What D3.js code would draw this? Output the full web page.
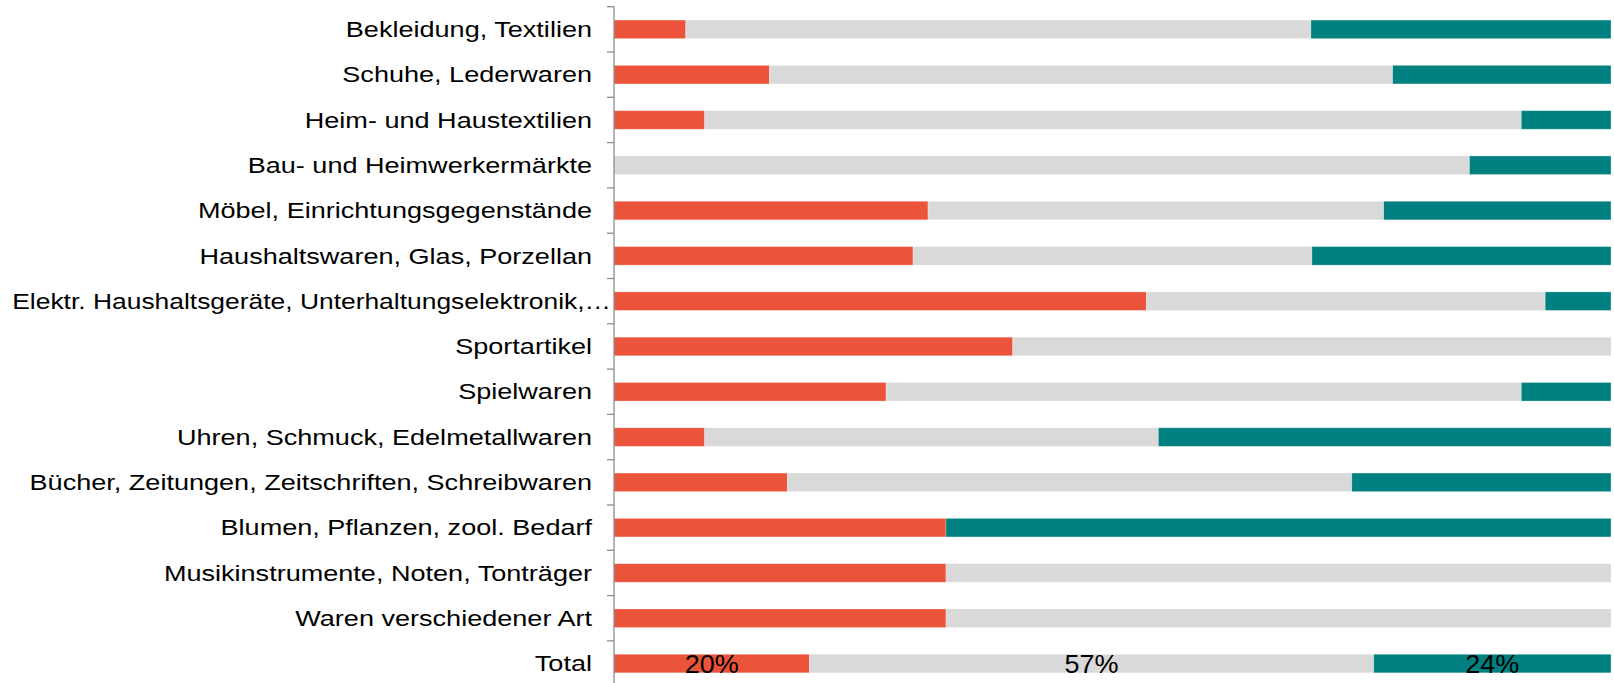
<!DOCTYPE html>
<html>
<head>
<meta charset="utf-8">
<script src="https://cdn.jsdelivr.net/npm/d3@7"></script>
<style>
  body { margin: 0; background: #fff; }
  svg { display: block; font-family: "Liberation Sans", Arial, sans-serif; }
</style>
</head>
<body>
<div id="chart"></div>
<script>
// categories, top to bottom
const categories = [
  "Bekleidung, Textilien",
  "Schuhe, Lederwaren",
  "Heim- und Haustextilien",
  "Bau- und Heimwerkermärkte",
  "Möbel, Einrichtungsgegenstände",
  "Haushaltswaren, Glas, Porzellan",
  "Elektr. Haushaltsgeräte, Unterhaltungselektronik,…",
  "Sportartikel",
  "Spielwaren",
  "Uhren, Schmuck, Edelmetallwaren",
  "Bücher, Zeitungen, Zeitschriften, Schreibwaren",
  "Blumen, Pflanzen, zool. Bedarf",
  "Musikinstrumente, Noten, Tonträger",
  "Waren verschiedener Art",
  "Total"
]

// shares in percent (red / gray / teal)
const redValues  = [7.2, 15.6, 9.1, 0, 31.5, 30.0, 53.4, 40.0, 27.3, 9.1, 17.4, 33.3, 33.3, 33.3, 19.6]
const grayValues = [62.7, 62.5, 81.9, 85.8, 45.7, 40.0, 40.0, 60.0, 63.7, 45.5, 56.6, 0, 66.7, 66.7, 56.6]
const tealValues = [30.1, 21.9, 9.0, 14.2, 22.8, 30.0, 6.6, 0, 9.0, 45.4, 26.0, 66.7, 0, 0, 23.8]

// data labels shown on the Total row only
const totalLabels = ["20%", "57%", "24%"]

const keys = ['red', 'gray', 'teal']
const colors = { red: '#EB533B', gray: '#D9D9D9', teal: '#008080' }

const width = 1614
const height = 683
const margin = { top: 6.7, right: 3, left: 614 }
const step = 45.3
const stretch = 1.23   // the reference text is drawn wider than normal

const rows = categories.map((c, i) => ({
  cat: c, red: redValues[i], gray: grayValues[i], teal: tealValues[i]
}))

const svg = d3.select('#chart')
  .append('svg')
  .attr('width', width)
  .attr('height', height)

const x = d3.scaleLinear()
  .domain([0, 100])
  .range([margin.left, width - margin.right])

const y = d3.scaleBand()
  .domain(categories)
  .range([margin.top, margin.top + step * categories.length])
  .paddingInner(0.59)
  .paddingOuter(0.295)

const stacked = d3.stack().keys(keys)(rows)

// bars
svg.append('g')
  .selectAll('g')
  .data(stacked)
  .enter()
  .append('g')
  .attr('fill', d => colors[d.key])
  .selectAll('rect')
  .data(d => d)
  .enter()
  .append('rect')
  .attr('x', d => x(d[0]))
  .attr('y', d => y(d.data.cat))
  .attr('width', d => x(d[1]) - x(d[0]))
  .attr('height', y.bandwidth())
  .attr('stroke', '#fff')
  .attr('stroke-opacity', 0.35)
  .attr('stroke-width', 0.8)

// category labels
const labels = svg.append('g')
  .selectAll('text')
  .data(categories)
  .enter()
  .append('text')
  .attr('dy', '0.35em')
  .attr('text-anchor', 'end')
  .attr('font-size', '22px')
  .attr('fill', '#000')
  .text(d => d)

labels.attr('transform', function (d) {
  let raw = this.getComputedTextLength()
  let sx = stretch
  let xEnd = margin.left - 22
  // long labels run over to the axis, as in the reference
  if (xEnd - raw * sx < 12) {
    xEnd = margin.left - 3
    sx = Math.min(stretch, (xEnd - 12) / raw)
  }
  return `translate(${xEnd},${y(d) + y.bandwidth() / 2}) scale(${sx},1)`
})

// axis line with ticks at band boundaries
const axis = svg.append('g').attr('stroke', '#8c8c8c').attr('stroke-width', 1.3)
axis.append('line')
  .attr('x1', margin.left).attr('x2', margin.left)
  .attr('y1', margin.top).attr('y2', height + 10)
axis.selectAll('.tick')
  .data(d3.range(categories.length + 1))
  .enter()
  .append('line')
  .attr('class', 'tick')
  .attr('x1', margin.left - 7).attr('x2', margin.left)
  .attr('y1', i => margin.top + i * y.step())
  .attr('y2', i => margin.top + i * y.step())

// labels on the Total row
const total = stacked.map(s => s[s.length - 1])
svg.append('g')
  .selectAll('text')
  .data(total)
  .enter()
  .append('text')
  .attr('transform', d => `translate(${(x(d[0]) + x(d[1])) / 2},${y('Total') + y.bandwidth() / 2 + 1}) scale(1.08,1)`)
  .attr('dy', '0.35em')
  .attr('text-anchor', 'middle')
  .attr('font-size', '25px')
  .attr('fill', '#000')
  .text((d, i) => totalLabels[i])
</script>
</body>
</html>
